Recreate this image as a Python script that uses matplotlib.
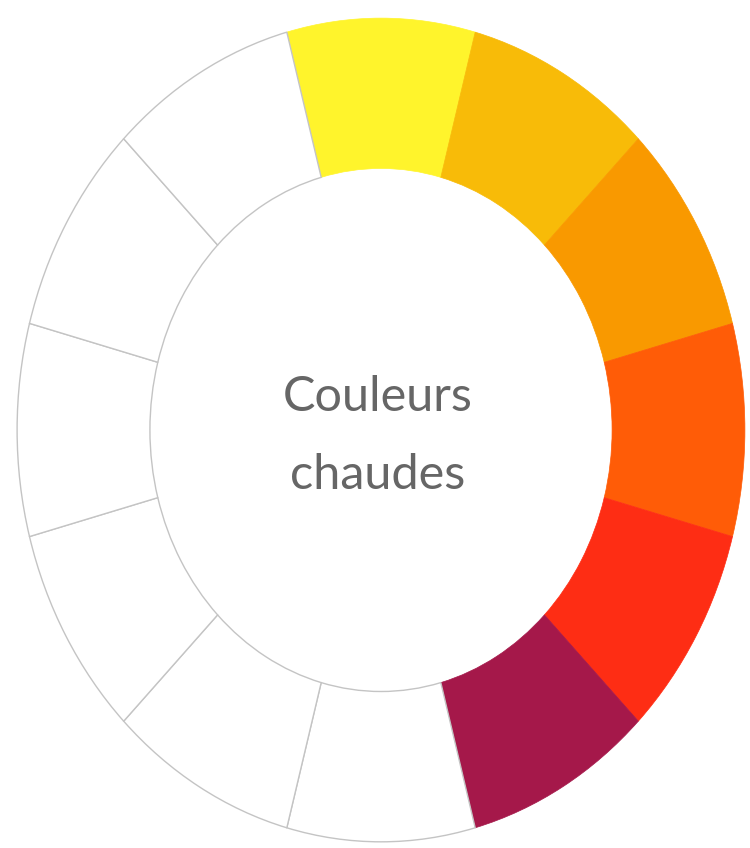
import matplotlib
matplotlib.use("Agg")
import matplotlib.pyplot as plt

# 12-part colour wheel, clockwise from the top
segments = ["jaune", "jaune orangé", "orange", "orange rouge", "rouge", "pourpre",
            "", "", "", "", "", ""]
shares = [1] * 12
warm = [True] * 6 + [False] * 6
title = "Couleurs\nchaudes"

seg_colors = ["#FFF42C", "#F8BB08", "#F99900", "#FF5C07", "#FE2D14", "#A5184A"] + ["white"] * 6

fig = plt.figure(figsize=(7.5, 8.48), dpi=100)
ax = fig.add_axes([0, 0, 1, 1])

wedges, _ = ax.pie(shares, colors=seg_colors, startangle=105, counterclock=False,
                   radius=1.0, wedgeprops=dict(width=0.365, linewidth=0))

for w, is_warm, c in zip(wedges, warm, seg_colors):
    if is_warm:
        w.set_edgecolor(c)
        w.set_linewidth(0.5)
    else:
        w.set_edgecolor("#c4c4c4")
        w.set_linewidth(1.0)

# ellipse stretched vertically, as in the picture
ax.set_aspect("auto")
ax.set_xlim(-1.047, 1.014)
ax.set_ylim(-1.015, 1.044)
ax.axis("off")

ax.text(-0.01, -0.014, title, ha="center", va="center", fontsize=35,
        family="Lato", color="#666666", linespacing=1.95)

fig.savefig("out.png", dpi=100)
